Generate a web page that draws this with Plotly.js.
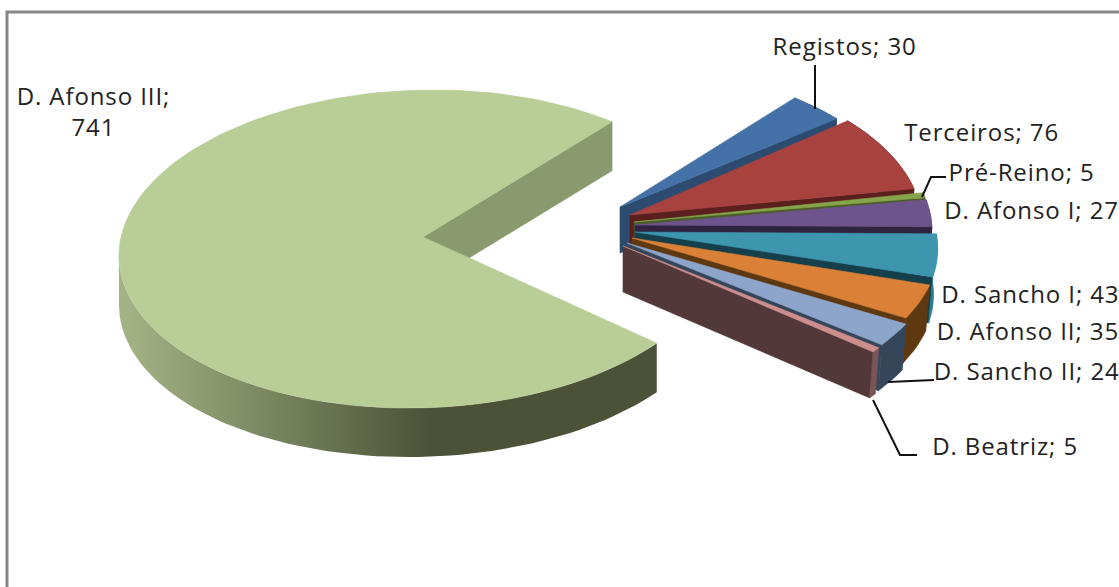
<!DOCTYPE html>
<html><head><meta charset="utf-8">
<script src="https://cdn.plot.ly/plotly-3.0.1.min.js"></script>
<style>html,body{margin:0;padding:0;background:#fff}#c{width:1119px;height:587px}
#c .annotation-text{letter-spacing:0.9px}</style>
</head><body><div id="c"></div>
<script>
// Data
const categories = ["Registos","Terceiros","Pré-Reino","D. Afonso I","D. Sancho I","D. Afonso II","D. Sancho II","D. Beatriz","D. Afonso III"];
const values = [30,76,5,27,43,35,24,5,741];
// Slice styles
const topColors  = ["#4472A8","#A8423F","#86A44A","#6E548D","#3D96AE","#DA8137","#8EA5CB","#CE8E8D","#B9CD96"];
const wallColors = ["#2D4B70","#5B1F1D","#4A5C28","#2F2340","#2A7A90","#5E3810","#36465A","#7A5555","#4C5237"];
const cutColors  = ["#2D4B70","#5B1F1D","#4A5C28","#2F2340","#153F4B","#5E3810","#36465A","#523838","#8A9A6F"];
// Exploded position of each slice: ellipse centre and apex, in the axis units (pixels)
const centreX = [607,618,627,628,633,635,635,632,421];
const centreY = [223,225,229,231,238,246,252,255,249];
const apexX   = [620,630,634,635,635,632,627,623,423];
const apexY   = [207,215,222,225,232,238,243,246,237];
const radiusX = [304,304,304,304,304,304,304,304,302];
const shearX  = [0,0,0,0,20,0,0,0,-6];
const shearY  = [0,0,0,0,0,0,0,0,-3.5];
const depths  = [46,46,46,46,46,46,46,46,49];
const converge = [0.0133,0.0133,0.0133,0.0133,0.0133,0.0133,0.0133,0.0133,0];
const radiusY = 159, startAngle = -51.9;
// Label text positions
const labelX = [776,908,952,949,946,942,939,936,93];
const labelY = [45,131,171,209,293,330,370,445,111];
const labelText = categories.map((c,i)=> c==="D. Afonso III" ? c+";<br>"+values[i] : c+"; "+values[i]);
// Leader lines
const leaders = [
  {x:[815,815],y:[65,109]},
  {x:[946,931,922],y:[177,177,197]},
  {x:[934,888],y:[380,382]},
  {x:[917,900,873],y:[455,455,400]}
];

const total = values.reduce((a,b)=>a+b,0);
const rad = d=>d*Math.PI/180;
const traces = [];
function poly(xs,ys,color,extra){
  traces.push(Object.assign({type:"scatter",mode:"lines",x:xs.concat([xs[0]]),y:ys.concat([ys[0]]),fill:"toself",
    fillcolor:color,line:{color:color,width:0.6},hoverinfo:"skip",showlegend:false},extra||{}));
}
let ang = startAngle;
const spans = values.map(v=>{const s=[ang,ang+v/total*360];ang=s[1];return s;});

function drawSlice(i){
  const [a0,a1]=spans[i];
  const depth=depths[i];
  const pt=a=>[centreX[i]+radiusX[i]*Math.cos(rad(a))+shearX[i]*Math.sin(rad(a)),
               centreY[i]+radiusY*Math.sin(rad(a))+shearY[i]*Math.cos(rad(a))];
  const low=x=>x-(x-apexX[i])*converge[i];
  const n=Math.max(4,Math.ceil((a1-a0)/2));
  const arcs=[];
  for(let k=0;k<=n;k++) arcs.push(a0+(a1-a0)*k/n);
  const big = i===8;
  // face on the cut edge
  const e=pt(a1);
  poly([apexX[i],e[0],low(e[0]),apexX[i]],[apexY[i],e[1],e[1]+depth,apexY[i]+depth],cutColors[i]);
  // outer wall
  const wallArc = big ? arcs.filter(a=>a<=180) : arcs;
  const xs=[],ys=[];
  wallArc.forEach(a=>{const p=pt(a);xs.push(p[0]);ys.push(p[1]);});
  wallArc.slice().reverse().forEach(a=>{const p=pt(a);xs.push(low(p[0]));ys.push(p[1]+depth);});
  if(big){
    poly(xs,ys,wallColors[i],{line:{width:0},
      fillgradient:{type:"horizontal",start:125,stop:430,colorscale:[[0,"#A3B385"],[0.5,"#76845E"],[1,wallColors[i]]]}});
  } else {
    poly(xs,ys,wallColors[i]);
  }
  // top surface
  const tx=[apexX[i]],ty=[apexY[i]];
  arcs.forEach(a=>{const p=pt(a);tx.push(p[0]);ty.push(p[1]);});
  poly(tx,ty,topColors[i]);
}
drawSlice(8);
for(let i=0;i<8;i++) drawSlice(i);

leaders.forEach(l=>traces.push({type:"scatter",mode:"lines",x:l.x,y:l.y,line:{color:"#111",width:2},hoverinfo:"skip",showlegend:false}));

const annotations = categories.map((c,i)=>({
  xref:"x",yref:"y",x:labelX[i],y:labelY[i],text:labelText[i],showarrow:false,
  xanchor:i===8?"center":"left",yanchor:"middle",align:"center",
  font:{family:"Open Sans, sans-serif",size:24,color:"#222"}
}));

Plotly.newPlot("c",traces,{
  width:1119,height:587,margin:{l:0,r:0,t:0,b:0},
  paper_bgcolor:"#fff",plot_bgcolor:"#fff",showlegend:false,
  xaxis:{range:[0,1119],visible:false,fixedrange:true},
  yaxis:{range:[587,0],visible:false,fixedrange:true},
  shapes:[{type:"rect",xref:"x",yref:"y",x0:7,y0:12,x1:1130,y1:600,line:{color:"#868686",width:3},layer:"below"}],
  annotations
},{displayModeBar:false,staticPlot:true});
</script></body></html>
